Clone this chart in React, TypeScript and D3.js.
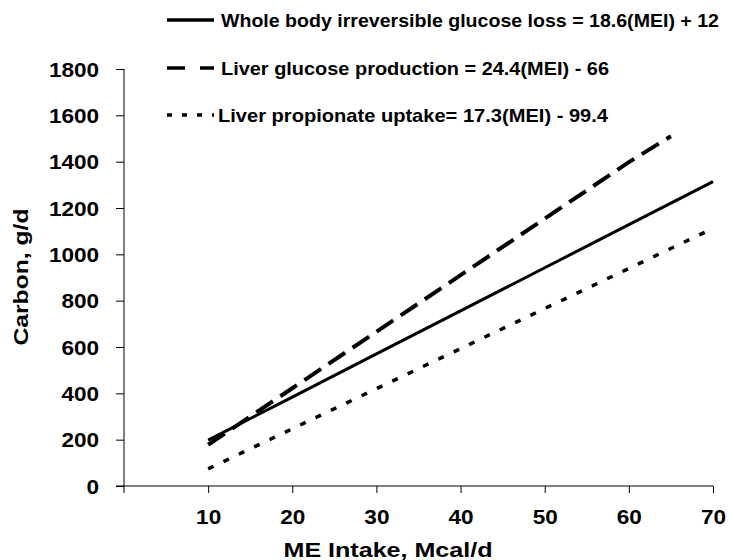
import { useEffect, useRef } from "react"
import * as d3 from "d3"

// ME intake (Mcal/d) and carbon (g/d)
const wholeBodyX = [10, 20, 30, 40, 50, 60, 70]
const wholeBodyY = [198, 384, 570, 756, 942, 1128, 1314]
const liverProdX = [10, 20, 30, 40, 50, 60, 65]
const liverProdY = [178, 422, 666, 910, 1154, 1398, 1510]
const propionateX = [10, 20, 30, 40, 50, 60, 70]
const propionateY = [74, 247, 420, 593, 766, 939, 1112]

const xTicks = [10, 20, 30, 40, 50, 60, 70]
const yTicks = [0, 200, 400, 600, 800, 1000, 1200, 1400, 1600, 1800]

const legendLabels = [
  "Whole body irreversible glucose loss = 18.6(MEI) + 12",
  "Liver glucose production = 24.4(MEI) - 66",
  "Liver propionate uptake= 17.3(MEI) - 99.4",
]
const legendWidths = [498, 388, 390]

const FONT = "Arial, 'Liberation Sans', sans-serif"

const App = () => {
  const svgRef = useRef<SVGSVGElement>(null)

  useEffect(() => {
    const svg = d3.select(svgRef.current)
    svg.selectAll("*").remove()

    const width = 730
    const height = 560

    svg.attr("width", width).attr("height", height).style("font-family", FONT)

    const x = d3.scaleLinear().domain([0, 70]).range([124, 713])
    const y = d3.scaleLinear().domain([0, 1800]).range([486, 69])

    // y axis
    const yAxis = svg
      .append("g")
      .attr("transform", `translate(${x(0)},0)`)
      .call(
        d3
          .axisLeft(y)
          .tickValues(yTicks)
          .tickFormat(d3.format("d"))
          .tickSize(8)
          .tickPadding(14)
          .tickSizeOuter(0)
      )
    yAxis.select(".domain").attr("stroke", "#000").attr("d", `M0,${y(1800)}V${y(0) + 7}`)
    yAxis.selectAll(".tick line").attr("stroke", "#000")
    yAxis
      .selectAll(".tick text")
      .attr("font-size", 20)
      .attr("font-weight", "bold")
      .attr("font-family", FONT)
      .attr("fill", "#000")
      .attr("dy", "0.36em")
      .attr("transform", "scale(1.13,1)")

    // x axis
    const xAxis = svg
      .append("g")
      .attr("transform", `translate(0,${y(0)})`)
      .call(d3.axisBottom(x).tickValues(xTicks).tickSize(7).tickPadding(17).tickSizeOuter(0))
    xAxis.select(".domain").attr("stroke", "#000").attr("d", `M${x(0) - 8},0H${x(70)}`)
    xAxis.selectAll(".tick line").attr("stroke", "#000")
    xAxis
      .selectAll(".tick text")
      .attr("font-size", 20)
      .attr("font-weight", "bold")
      .attr("font-family", FONT)
      .attr("fill", "#000")
      .attr("dy", "0.71em")
      .attr("transform", "scale(1.13,1)")

    // axis titles
    svg
      .append("text")
      .attr("transform", `translate(28,277) rotate(-90)`)
      .attr("text-anchor", "middle")
      .attr("font-size", 20)
      .attr("font-weight", "bold")
      .attr("textLength", 137)
      .attr("lengthAdjust", "spacingAndGlyphs")
      .text("Carbon, g/d")

    svg
      .append("text")
      .attr("x", 388)
      .attr("y", 557)
      .attr("text-anchor", "middle")
      .attr("font-size", 20)
      .attr("font-weight", "bold")
      .attr("textLength", 209)
      .attr("lengthAdjust", "spacingAndGlyphs")
      .text("ME Intake, Mcal/d")

    const line = d3
      .line<[number, number]>()
      .x((d) => x(d[0]))
      .y((d) => y(d[1]))

    const series = [
      { xs: wholeBodyX, ys: wholeBodyY, dash: null, width: 3, legendDash: null },
      { xs: liverProdX, ys: liverProdY, dash: "20,9", width: 4, legendDash: "18,15" },
      { xs: propionateX, ys: propionateY, dash: "6,11", width: 3.5, legendDash: "5,10" },
    ]

    series.forEach((s) => {
      const pts = s.xs.map((v, i) => [v, s.ys[i]] as [number, number])
      svg
        .append("path")
        .attr("d", line(pts))
        .attr("fill", "none")
        .attr("stroke", "#000")
        .attr("stroke-width", s.width)
        .attr("stroke-dasharray", s.dash)
    })

    // legend
    const legendY = [20, 68, 115]
    const legend = svg.append("g")
    legendLabels.forEach((label, i) => {
      const s = series[i]
      legend
        .append("line")
        .attr("x1", 167)
        .attr("x2", 214)
        .attr("y1", legendY[i])
        .attr("y2", legendY[i])
        .attr("stroke", "#000")
        .attr("stroke-width", 3.5)
        .attr("stroke-dasharray", s.legendDash)
      legend
        .append("text")
        .attr("x", i === 2 ? 218 : 221)
        .attr("y", legendY[i] + 7)
        .attr("font-size", 19)
        .attr("font-weight", "bold")
        .attr("textLength", legendWidths[i])
        .attr("lengthAdjust", "spacingAndGlyphs")
        .text(label)
    })
  }, [])

  return (
    <div style={{ position: "absolute", left: 0, top: 0 }}>
      <svg ref={svgRef}></svg>
    </div>
  )
}

export default App
